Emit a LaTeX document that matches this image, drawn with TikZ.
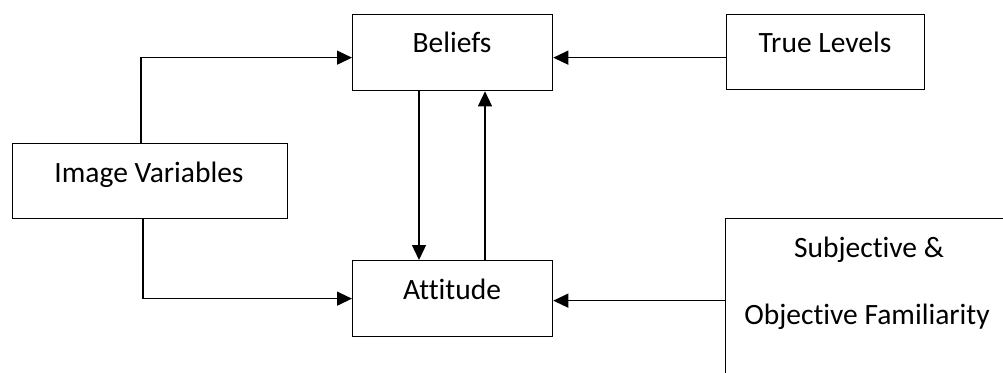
\documentclass[tikz,border=0pt]{standalone}
\usepackage{fontspec}
\setmainfont{Carlito}[Ligatures={NoCommon}]
\usetikzlibrary{arrows.meta,calc}
\tikzset{
  box/.style={draw=black, line width=1.3pt, inner sep=0pt, anchor=north west},
  lbl/.style={anchor=base, inner sep=0pt, font=\fontsize{29.5}{35}\selectfont},
  arr/.style={line width=1.3pt, -{Triangle[length=15pt,width=14pt]}},
  ln/.style={line width=1.3pt}
}
\begin{document}
\begin{tikzpicture}[x=1pt,y=-1pt]
\useasboundingbox (0,0) rectangle (1003,372);
\clip (0,0) rectangle (1003,372);
\fill[white] (0,0) rectangle (1003,372);
% boxes
\node[box, minimum width=200pt, minimum height=76pt] (bel) at (352,14) {};
\node[box, minimum width=198pt, minimum height=75pt] (tl) at (726,14) {};
\node[box, minimum width=275pt, minimum height=75pt] (iv) at (12,143) {};
\node[box, minimum width=200pt, minimum height=76pt] (att) at (352,260) {};
\node[box, minimum width=290pt, minimum height=200pt] (sub) at (725,218) {};
% texts
\node[lbl] (belt) at (452,52.7) {Beliefs};
\node[lbl] (tlt) at (825,52.7) {True Levels};
\node[lbl] (ivt) at (149,182) {Image Variables};
\node[lbl] (attt) at (452,299) {Attitude};
\node[lbl] (subt1) at (869,257) {Subjective \&};
\node[lbl] (subt2) at (867,324) {Objective Familiarity};
% connector helper coordinates
\coordinate (ivtop) at ($(iv.north west)+(129,0)$);
\coordinate (ivbot) at ($(iv.south west)+(131,0)$);
\coordinate (belin) at ($(bel.west)+(0,5)$);
\coordinate (belr) at ($(bel.east)+(0,5)$);
\coordinate (tlin) at ($(tl.west)+(0,5.5)$);
\coordinate (attr) at ($(att.east)+(0,2)$);
\coordinate (subl) at (sub.west |- attr);
\coordinate (bdown) at ($(bel.south west)+(67,0)$);
\coordinate (adown) at ($(att.north west)+(67,0)$);
\coordinate (aup) at ($(att.north west)+(133,0)$);
\coordinate (bup) at ($(bel.south west)+(133,0)$);
% connectors
\draw[arr] (ivtop) |- (belin);
\draw[arr] (ivbot) |- (att.west);
\draw[arr] (tlin) -- (belr);
\draw[arr] (subl) -- (attr);
\draw[arr] (bdown) -- (adown);
\draw[arr] (aup) -- (bup);
\end{tikzpicture}
\end{document}
